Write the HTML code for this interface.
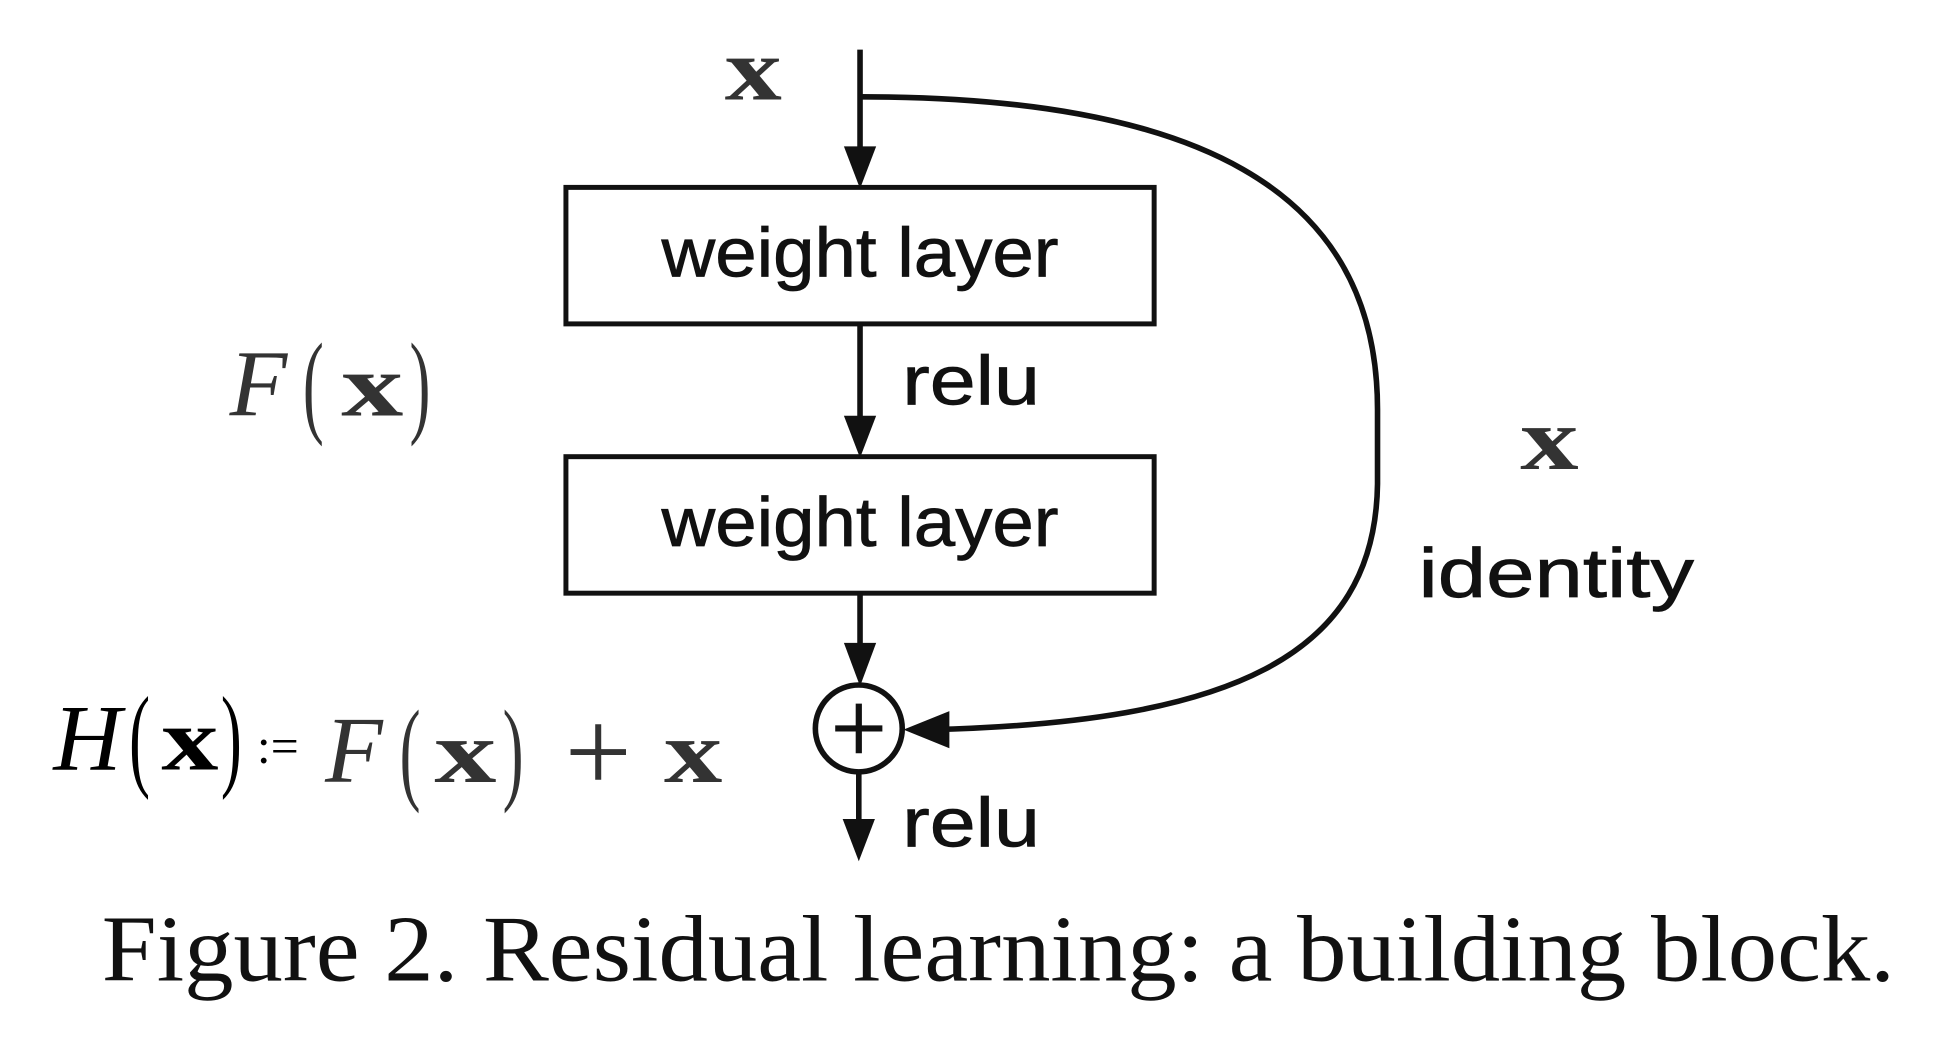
<!DOCTYPE html>
<html><head><meta charset="utf-8"><style>
html,body{margin:0;padding:0;background:#fff;}
svg{display:block;}
</style></head><body>
<svg width="1936" height="1064" viewBox="0 0 1560 857.4" xmlns="http://www.w3.org/2000/svg">
<g stroke="#111" stroke-width="4.5" fill="none">
<line x1="693" y1="40" x2="693" y2="125"/>
<rect x="456" y="151" width="474" height="110" stroke-width="4"/>
<line x1="693" y1="261" x2="693" y2="345"/>
<rect x="456" y="368" width="474" height="110" stroke-width="4"/>
<line x1="693" y1="478" x2="693" y2="528"/>
<circle cx="692" cy="587" r="35"/>
<line x1="673" y1="587" x2="711" y2="587" stroke-width="5"/>
<line x1="692" y1="567" x2="692" y2="607" stroke-width="5"/>
<line x1="692" y1="622" x2="692" y2="670"/>
<path d="M693 78 C960 78 1110 150 1110 330 L1110 390 C1108 530 990 582 750 588"/>
</g>
<g fill="#111">
<polygon points="680,118 706,118 693,152"/>
<polygon points="680,335 706,335 693,369"/>
<polygon points="680,518 706,518 693,553"/>
<polygon points="679,660 705,660 692,694"/>
<polygon points="765,573 765,603 728,588"/>
</g>
<g font-family="Liberation Sans Narrow, Liberation Sans, sans-serif" fill="#111" font-size="56" stroke="#111" stroke-width="0.6">
<text x="533" y="223" textLength="320" lengthAdjust="spacingAndGlyphs">weight layer</text>
<text x="533" y="440" textLength="320" lengthAdjust="spacingAndGlyphs">weight layer</text>
<text x="727" y="326" textLength="111" lengthAdjust="spacingAndGlyphs">relu</text>
<text x="727" y="682" textLength="111" lengthAdjust="spacingAndGlyphs">relu</text>
<text x="1143" y="481" textLength="222" lengthAdjust="spacingAndGlyphs">identity</text>
</g>
<g font-family="Liberation Serif, serif" fill="#333">
<text x="584" y="80" font-size="72" font-weight="bold" textLength="46" lengthAdjust="spacingAndGlyphs">x</text>
<text x="1225" y="378" font-size="72" font-weight="bold" textLength="47" lengthAdjust="spacingAndGlyphs">x</text>
<text x="185" y="335" font-size="76" font-style="italic">F</text>
<text x="244" y="340" font-size="92" transform="translate(244 340) scale(0.55 1) translate(-244 -340)">(</text>
<text x="275" y="335" font-size="72" font-weight="bold" textLength="50" lengthAdjust="spacingAndGlyphs">x</text>
<text x="330" y="340" font-size="92" transform="translate(330 340) scale(0.55 1) translate(-330 -340)">)</text>
<g fill="#000">
<text x="43" y="620" font-size="76" font-style="italic">H</text>
<text x="104" y="625" font-size="92" transform="translate(104 625) scale(0.55 1) translate(-104 -625)">(</text>
<text x="130" y="620" font-size="72" font-weight="bold" textLength="46" lengthAdjust="spacingAndGlyphs">x</text>
<text x="178" y="625" font-size="92" transform="translate(178 625) scale(0.55 1) translate(-178 -625)">)</text>
<text x="207" y="615" font-size="40">:=</text>
</g>
<text x="262" y="630" font-size="76" font-style="italic">F</text>
<text x="322" y="636" font-size="92" transform="translate(322 636) scale(0.55 1) translate(-322 -636)">(</text>
<text x="350" y="630" font-size="72" font-weight="bold" textLength="50" lengthAdjust="spacingAndGlyphs">x</text>
<text x="405" y="636" font-size="92" transform="translate(405 636) scale(0.55 1) translate(-405 -636)">)</text>
<text x="455" y="638" font-size="96">+</text>
<text x="535" y="630" font-size="72" font-weight="bold" textLength="47" lengthAdjust="spacingAndGlyphs">x</text>
</g>
<text x="82" y="790" font-family="Liberation Serif, serif" font-size="76" fill="#111" textLength="1445" lengthAdjust="spacingAndGlyphs">Figure 2. Residual learning: a building block.</text>
</svg>
</body></html>
